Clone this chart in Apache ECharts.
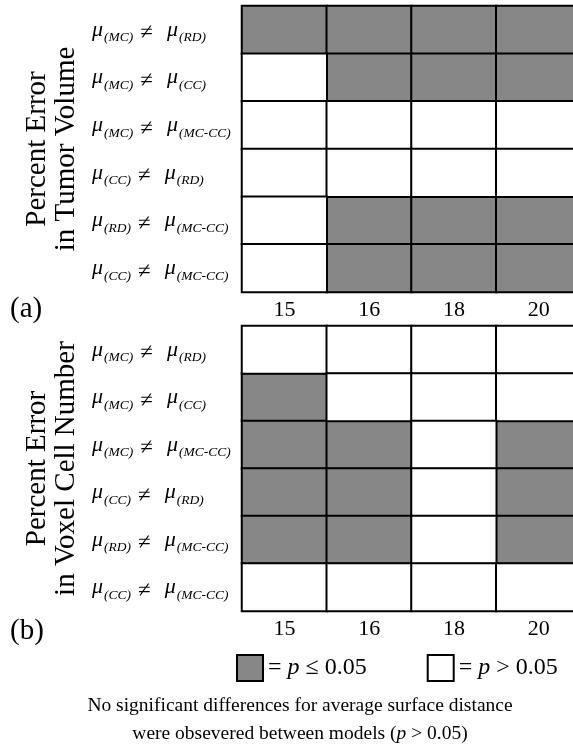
<!DOCTYPE html>
<html>
<head>
<meta charset="utf-8">
<script src="https://cdn.jsdelivr.net/npm/echarts@6/dist/echarts.min.js"></script>
<style>
html,body{margin:0;padding:0;background:#fff;}
#chart{width:573px;height:749px;}
</style>
</head>
<body>
<div id="chart"></div>
<script>
// ---- data ----
const meshSizes = ['15', '16', '18', '20'];
const comparisons = ['MC≠RD', 'MC≠CC', 'MC≠MC-CC', 'CC≠RD', 'RD≠MC-CC', 'CC≠MC-CC'];
// 1 = p <= 0.05 (significant), 0 = p > 0.05
const tumorVolumeSig = [
  [1, 1, 1, 1],
  [0, 1, 1, 1],
  [0, 0, 0, 0],
  [0, 0, 0, 0],
  [0, 1, 1, 1],
  [0, 1, 1, 1]
];
const voxelCellSig = [
  [0, 0, 0, 0],
  [1, 0, 0, 0],
  [1, 1, 0, 1],
  [1, 1, 0, 1],
  [1, 1, 0, 1],
  [0, 0, 0, 0]
];
const panelTitles = ['Percent Error\nin Tumor Volume', 'Percent Error\nin Voxel Cell Number'];
const panelTags = ['(a)', '(b)'];
const legendNames = ['sig', 'nonsig'];

// ---- chart ----
const SERIF = "'Liberation Serif','Times New Roman',serif";
const GRAY = '#878787';
const chart = echarts.init(document.getElementById('chart'), null, {renderer: 'canvas'});

function cells(matrix, flag) {
  const out = [];
  matrix.forEach((row, r) => row.forEach((v, c) => { if (v === flag) out.push([c, r, v]); }));
  return out;
}

const grids = [
  {left: 242, top: 6, width: 339, height: 286, containLabel: false, outerBoundsMode: 'none'},
  {left: 242, top: 326, width: 339, height: 285, containLabel: false, outerBoundsMode: 'none'}
];

const richLabel = {
  m: {fontFamily: SERIF, fontStyle: 'italic', fontSize: 22, color: '#000', lineHeight: 30, verticalAlign: 'middle'},
  s: {fontFamily: SERIF, fontStyle: 'italic', fontSize: 13.5, color: '#000', lineHeight: 10, verticalAlign: 'bottom', padding: [0, 0, 0, 1]},
  n: {fontFamily: SERIF, fontSize: 23, color: '#000', lineHeight: 24, verticalAlign: 'bottom', padding: [0, 14, 0, 7]}
};

const xAxes = [], yAxes = [], series = [];
[tumorVolumeSig, voxelCellSig].forEach((mat, g) => {
  xAxes.push({
    type: 'category', gridIndex: g, data: meshSizes, position: 'bottom',
    axisLine: {show: false},
    axisTick: {show: true, inside: true, length: 3, alignWithLabel: true, lineStyle: {color: '#b0b0b0', width: 1}},
    axisLabel: {fontFamily: SERIF, fontSize: 22, color: '#000', margin: 7},
    splitLine: {show: false}
  });
  yAxes.push({
    type: 'category', gridIndex: g, data: comparisons, inverse: true,
    axisLine: {show: false},
    axisTick: {show: true, inside: true, length: 3, alignWithLabel: true, lineStyle: {color: '#b0b0b0', width: 1}},
    axisLabel: {
      align: 'left', margin: 150,
      formatter: v => {
        const [a, b] = v.split('≠');
        return '{m|μ}{s|(' + a + ')}{n|≠}{m|μ}{s|(' + b + ')}';
      },
      rich: richLabel
    },
    name: panelTitles[g], nameLocation: 'middle', nameRotate: 90, nameGap: 157,
    nameTextStyle: {fontFamily: SERIF, fontSize: 29, color: '#000', lineHeight: 29, align: 'center'},
    splitLine: {show: false}
  });
  series.push({
    name: legendNames[0], type: 'heatmap', xAxisIndex: g, yAxisIndex: g,
    data: cells(mat, 1),
    itemStyle: {color: GRAY, borderColor: '#000', borderWidth: 2},
    emphasis: {disabled: true}, label: {show: false}, silent: true
  });
  series.push({
    name: legendNames[1], type: 'heatmap', xAxisIndex: g, yAxisIndex: g,
    data: cells(mat, 0),
    itemStyle: {color: '#ffffff', borderColor: '#000', borderWidth: 2},
    emphasis: {disabled: true}, label: {show: false}, silent: true
  });
});

const option = {
  backgroundColor: '#fff',
  animation: false,
  grid: grids,
  xAxis: xAxes,
  yAxis: yAxes,
  series: series,
  legend: {
    data: [
      {name: 'sig', itemStyle: {color: GRAY, borderColor: '#000', borderWidth: 2}},
      {name: 'nonsig', itemStyle: {color: '#fff', borderColor: '#000', borderWidth: 2}}
    ],
    left: 236, top: 654, padding: 0,
    icon: 'rect', itemWidth: 26, itemHeight: 26, itemGap: 60,
    selectedMode: false,
    formatter: n => n === 'sig' ? '{t|= }{i|p}{t| ≤ 0.05}' : '{t|= }{i|p}{t| > 0.05}',
    textStyle: {
      fontFamily: SERIF, fontSize: 24, color: '#000',
      rich: {
        t: {fontFamily: SERIF, fontSize: 24, color: '#000'},
        i: {fontFamily: SERIF, fontSize: 24, fontStyle: 'italic', color: '#000'}
      }
    }
  },
  graphic: [
    {type: 'text', left: 10, top: 295, style: {text: panelTags[0], font: '29px ' + SERIF, fill: '#000'}},
    {type: 'text', left: 10, top: 617, style: {text: panelTags[1], font: '29px ' + SERIF, fill: '#000'}},
    {type: 'text', x: 300, y: 706, style: {
      text: 'No significant differences for average surface distance',
      font: '19.5px ' + SERIF, fill: '#000', align: 'center', verticalAlign: 'middle'}},
    {type: 'text', x: 300, y: 734, style: {
      text: '{t|were obsevered between models (}{i|p}{t| > 0.05)}',
      align: 'center', verticalAlign: 'middle',
      rich: {
        t: {fontFamily: SERIF, fontSize: 19.5, fill: '#000'},
        i: {fontFamily: SERIF, fontSize: 19.5, fontStyle: 'italic', fill: '#000'}
      }}}
  ]
};
chart.setOption(option);
</script>
</body>
</html>
